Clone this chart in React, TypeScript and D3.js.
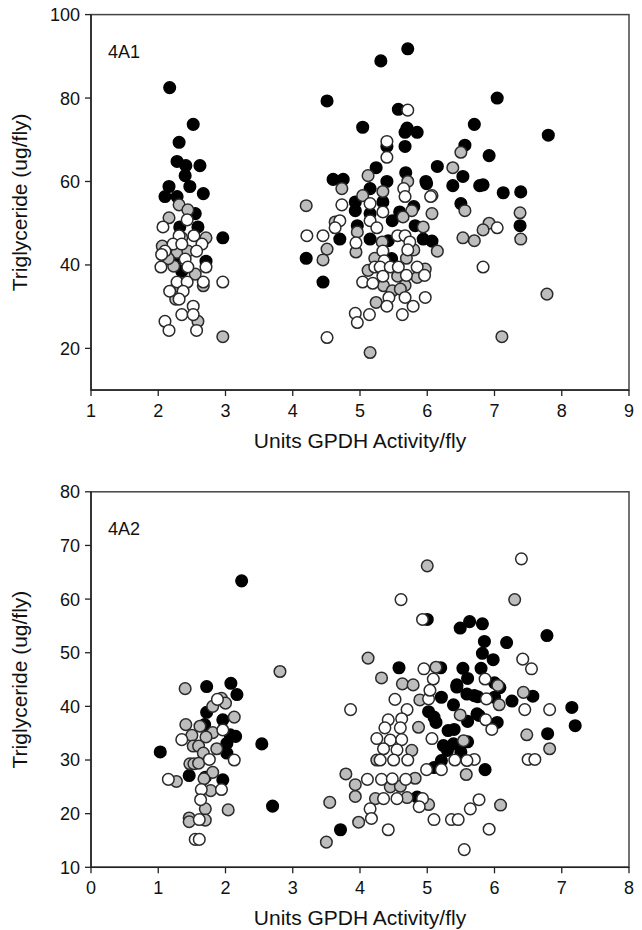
import React from 'react';
import * as d3 from 'd3';

type Pt = [number, number];

// ---------- Panel 4A1 ----------
const p1XTicks = [1, 2, 3, 4, 5, 6, 7, 8, 9];
const p1YTicks = [20, 40, 60, 80, 100];

const p1Black: Pt[] = [
  [2.17, 82.5], [2.52, 73.7], [2.31, 69.4], [2.28, 64.8], [2.41, 63.8], [2.62, 63.8], [2.40, 61.4],
  [2.16, 58.8], [2.47, 58.8], [2.67, 57.1], [2.10, 56.4], [2.28, 56.4], [2.55, 52.3], [2.32, 49.1],
  [2.59, 49.1], [2.96, 46.5], [2.71, 40.9], [2.35, 38.5], [2.30, 41.5],
  [5.71, 91.8], [5.31, 88.9], [4.51, 79.3], [5.57, 77.3], [5.04, 73.0], [5.70, 72.8], [5.85, 71.8],
  [5.67, 71.8], [6.70, 73.7], [7.04, 80.0], [5.40, 68.4], [5.67, 68.4], [6.56, 68.7], [5.24, 63.3],
  [5.68, 62.1], [6.15, 63.6], [6.53, 61.2], [6.38, 59.0], [4.60, 60.5], [4.75, 60.5], [5.40, 60.0],
  [5.98, 60.0], [5.15, 58.3], [6.78, 59.0], [7.80, 71.1], [6.92, 66.2], [6.83, 59.2], [7.13, 57.3],
  [7.39, 57.5], [6.50, 54.7], [7.38, 49.4], [4.93, 55.1], [5.34, 55.1], [5.99, 59.5], [4.93, 53.0],
  [5.59, 52.7], [5.80, 54.0], [4.96, 49.4], [5.15, 52.3], [5.48, 50.6], [5.82, 49.4], [4.70, 46.2],
  [5.15, 46.2], [5.42, 45.8], [5.94, 46.2], [6.07, 45.7], [4.20, 41.6], [5.47, 41.5], [4.45, 35.9],
];

const p1Gray: Pt[] = [
  [2.31, 54.4], [2.44, 53.2], [2.16, 51.3], [2.71, 46.5], [2.06, 44.5], [2.28, 43.0], [2.44, 43.3],
  [2.23, 39.7], [2.55, 37.8], [2.28, 34.9], [2.67, 35.0], [2.26, 31.8], [2.59, 26.5], [2.96, 22.8],
  [2.35, 46.5], [2.15, 41.5],
  [5.12, 61.4], [6.50, 67.0], [6.38, 63.3], [4.73, 58.3], [5.71, 60.0], [5.34, 57.6], [5.04, 56.6],
  [4.20, 54.2], [6.56, 53.0], [5.77, 53.0], [6.07, 52.3], [4.63, 50.3], [5.64, 51.5], [5.94, 49.1],
  [4.96, 47.9], [5.33, 45.5], [6.15, 43.3], [4.51, 43.8], [4.94, 43.1], [5.80, 43.6], [4.45, 41.2],
  [5.22, 41.6], [5.69, 41.6], [5.12, 38.7], [5.97, 39.0], [5.85, 37.0], [5.56, 37.3], [5.35, 35.0],
  [5.67, 35.1], [5.48, 33.8], [5.60, 34.2], [5.24, 31.0], [5.15, 19.0], [7.38, 52.5], [6.92, 50.0],
  [6.83, 48.4], [6.53, 46.5], [6.70, 45.8], [7.39, 46.2], [7.78, 33.0], [7.11, 22.8],
];

const p1White: Pt[] = [
  [2.43, 50.8], [2.07, 49.1], [2.31, 47.0], [2.53, 47.0], [2.22, 45.0], [2.35, 45.0], [2.65, 45.0],
  [2.10, 43.3], [2.57, 43.3], [2.40, 41.4], [2.04, 39.5], [2.44, 39.5], [2.71, 39.5], [2.28, 35.9],
  [2.43, 35.9], [2.67, 35.9], [2.96, 35.9], [2.17, 33.7], [2.37, 33.7], [2.31, 31.8], [2.52, 30.1],
  [2.35, 28.1], [2.52, 28.1], [2.10, 26.5], [2.16, 24.3], [2.57, 24.3], [2.05, 42.5],
  [5.71, 77.1], [5.40, 69.6], [5.40, 65.8], [5.65, 58.3], [6.07, 56.6], [4.73, 54.4], [5.15, 54.7],
  [5.67, 56.4], [6.05, 56.4], [5.34, 52.7], [4.70, 50.6], [4.63, 48.9], [5.15, 50.6], [5.25, 48.9],
  [4.21, 47.0], [4.45, 47.0], [5.56, 47.0], [5.67, 47.0], [4.94, 45.3], [5.74, 45.5], [5.34, 43.3],
  [5.71, 43.6], [5.36, 41.0], [5.22, 39.5], [5.30, 39.5], [5.45, 39.5], [5.57, 39.5], [5.85, 39.5],
  [5.69, 37.5], [5.96, 37.5], [5.34, 37.3], [5.04, 35.9], [5.19, 35.6], [5.43, 32.2], [5.67, 32.2],
  [5.97, 32.2], [5.40, 30.1], [5.79, 30.1], [4.93, 28.4], [5.14, 28.1], [5.63, 28.1], [4.96, 26.2],
  [4.51, 22.6], [7.04, 48.9], [6.83, 39.5],
];

// ---------- Panel 4A2 ----------
const p2XTicks = [0, 1, 2, 3, 4, 5, 6, 7, 8];
const p2YTicks = [10, 20, 30, 40, 50, 60, 70, 80];

const p2Black: Pt[] = [
  [2.24, 63.4], [1.72, 43.7], [2.08, 44.3], [2.17, 42.2], [1.72, 38.9], [1.96, 37.5], [1.69, 36.6],
  [2.07, 34.7], [2.15, 34.4], [2.02, 33.1], [2.54, 33.0], [1.03, 31.5], [2.02, 31.3], [1.46, 27.1],
  [1.96, 26.3], [1.70, 26.8], [2.70, 21.4],
  [5.00, 56.2], [5.49, 54.6], [5.63, 55.8], [5.82, 55.4], [5.85, 52.1], [6.18, 51.9], [5.82, 49.9],
  [5.98, 48.7], [4.58, 47.2], [5.20, 47.2], [5.53, 47.1], [5.80, 47.1], [5.60, 45.2], [5.44, 44.0],
  [6.00, 44.4], [6.78, 53.2], [6.57, 41.9], [5.75, 41.8], [6.00, 41.7], [6.26, 41.0], [7.15, 39.8],
  [7.20, 36.4], [5.77, 38.3], [6.04, 37.0], [6.79, 34.9], [5.86, 28.2], [5.21, 41.7], [5.44, 43.6],
  [5.59, 42.3], [5.70, 42.0], [6.08, 43.5], [5.39, 40.3], [5.74, 38.6], [5.02, 39.0], [5.10, 38.0],
  [5.60, 37.2], [5.13, 37.0], [5.31, 35.5], [5.40, 35.7], [5.24, 32.7], [5.39, 33.0], [5.60, 33.4],
  [5.30, 31.8], [5.50, 31.5], [5.21, 29.9], [5.10, 28.6], [4.85, 23.1], [3.71, 17.0],
];

const p2Gray: Pt[] = [
  [2.81, 46.5], [1.40, 43.3], [1.94, 41.5], [2.00, 40.6], [1.81, 40.0], [2.13, 38.0], [1.41, 36.6],
  [1.62, 36.3], [1.81, 35.1], [1.50, 34.6], [1.71, 34.3], [1.52, 32.6], [1.60, 32.6], [1.87, 32.1],
  [1.67, 31.3], [1.47, 29.3], [1.53, 29.3], [1.60, 29.4], [1.81, 27.7], [1.27, 26.0], [1.68, 26.5],
  [1.78, 24.3], [1.70, 20.9], [2.04, 20.7], [1.46, 19.2], [1.70, 18.8], [1.46, 18.5],
  [5.00, 66.2], [6.30, 59.9], [4.12, 49.0], [5.13, 47.3], [4.32, 45.3], [4.63, 44.2], [4.79, 44.0],
  [6.05, 43.9], [6.43, 42.6], [6.07, 40.3], [6.48, 34.7], [6.82, 32.1], [6.09, 21.6], [4.89, 41.2],
  [5.49, 38.4], [4.87, 36.1], [5.54, 33.6], [4.77, 31.8], [4.25, 30.0], [5.58, 27.3], [3.79, 27.4],
  [4.82, 26.6], [3.93, 25.4], [4.45, 25.0], [4.60, 25.1], [3.93, 23.2], [4.23, 22.8], [4.70, 23.0],
  [5.02, 21.7], [3.55, 22.1], [3.98, 18.4], [3.50, 14.7],
];

const p2White: Pt[] = [
  [1.88, 41.3], [1.96, 35.6], [1.35, 33.8], [1.76, 30.1], [2.13, 30.0], [1.15, 26.4], [1.64, 24.5],
  [1.94, 24.5], [1.63, 22.6], [1.61, 18.9], [1.55, 15.2], [1.61, 15.2],
  [6.40, 67.5], [4.61, 59.9], [4.93, 56.2], [4.95, 47.0], [5.09, 45.1], [5.86, 45.1], [6.42, 48.8],
  [6.55, 47.0], [5.88, 41.4], [6.45, 39.4], [6.82, 39.4], [5.87, 37.5], [5.96, 35.7], [6.50, 30.1],
  [6.60, 30.1], [5.70, 30.1], [5.77, 22.6], [5.92, 17.1], [3.86, 39.4], [4.52, 41.3], [4.70, 39.4],
  [5.02, 41.4], [5.04, 43.0], [4.42, 37.5], [4.62, 37.7], [4.37, 36.0], [4.60, 36.0], [5.07, 34.0],
  [4.25, 34.0], [4.45, 33.7], [4.62, 33.8], [4.35, 32.1], [4.55, 31.9], [5.59, 29.9], [5.41, 30.0],
  [4.30, 30.0], [4.50, 30.0], [4.71, 30.0], [4.99, 28.2], [5.21, 28.2], [4.11, 26.4], [4.32, 26.4],
  [4.48, 26.5], [4.68, 26.4], [4.35, 22.8], [4.55, 22.8], [4.93, 22.8], [4.88, 21.3], [4.15, 20.9],
  [5.64, 20.9], [4.17, 19.1], [5.10, 18.9], [5.36, 18.9], [5.46, 18.9], [4.42, 17.0], [5.55, 13.3],
];

const xTitle = 'Units GPDH Activity/fly';
const yTitle = 'Triglyceride (ug/fly)';

const FONT = '"Liberation Sans", Arial, Helvetica, sans-serif';
const LEFT = 91;
const RIGHT = 629;
const PH = 375.5;
const R = 5.8;
const STROKE = '#2a2a2a';

interface PanelProps {
  top: number;
  xDomain: [number, number];
  yDomain: [number, number];
  xTicks: number[];
  yTicks: number[];
  black: Pt[];
  gray: Pt[];
  white: Pt[];
  label: string;
}

function Panel({ top, xDomain, yDomain, xTicks, yTicks, black, gray, white, label }: PanelProps) {
  const x = d3.scaleLinear().domain(xDomain).range([LEFT, RIGHT]);
  const y = d3.scaleLinear().domain(yDomain).range([top + PH, top]);
  const bottom = top + PH;
  const groups: { pts: Pt[]; fill: string; stroke: string }[] = [
    { pts: black, fill: '#000', stroke: '#000' },
    { pts: gray, fill: '#bdbdbd', stroke: STROKE },
    { pts: white, fill: '#fff', stroke: STROKE },
  ];
  return (
    <g>
      {groups.map((g, gi) => (
        <g key={gi}>
          {g.pts.map((p, i) => (
            <circle key={i} cx={x(p[0])} cy={y(p[1])} r={R} fill={g.fill} stroke={g.stroke} strokeWidth={1.5} />
          ))}
        </g>
      ))}
      <rect x={LEFT} y={top} width={RIGHT - LEFT} height={PH} fill="none" stroke="#444" strokeWidth={1.5} />
      <line x1={LEFT} x2={LEFT} y1={top} y2={bottom} stroke="#222" strokeWidth={1.5} />
      <line x1={LEFT} x2={RIGHT} y1={bottom} y2={bottom} stroke="#222" strokeWidth={1.5} />
      {xTicks.map((t) => (
        <g key={'x' + t}>
          <line x1={x(t)} x2={x(t)} y1={bottom} y2={bottom + 6} stroke="#222" strokeWidth={1.3} />
          <text x={x(t)} y={bottom + 27} textAnchor="middle" fontSize={18} fontFamily={FONT} fill="#111">
            {t}
          </text>
        </g>
      ))}
      {yTicks.map((t) => (
        <g key={'y' + t}>
          <line x1={LEFT - 6} x2={LEFT} y1={y(t)} y2={y(t)} stroke="#222" strokeWidth={1.3} />
          <text x={LEFT - 11} y={y(t)} dy="0.36em" textAnchor="end" fontSize={18} fontFamily={FONT} fill="#111">
            {t}
          </text>
        </g>
      ))}
      <text x={LEFT + 17} y={top + 43} fontSize={18} fontFamily={FONT} fill="#111">
        {label}
      </text>
      <text x={(LEFT + RIGHT) / 2} y={bottom + 58} textAnchor="middle" fontSize={21} fontFamily={FONT} fill="#111">
        {xTitle}
      </text>
      <text
        transform={`translate(27,${top + PH / 2}) rotate(-90)`}
        textAnchor="middle"
        fontSize={21}
        fontFamily={FONT}
        fill="#111"
      >
        {yTitle}
      </text>
    </g>
  );
}

export default function App() {
  return (
    <svg
      width={642}
      height={930}
      style={{ position: 'absolute', left: 0, top: 0, background: '#fff', display: 'block' }}
    >
      <rect width={642} height={930} fill="#fff" />
      <Panel
        top={14.6}
        xDomain={[1, 9]}
        yDomain={[10, 100]}
        xTicks={p1XTicks}
        yTicks={p1YTicks}
        black={p1Black}
        gray={p1Gray}
        white={p1White}
        label="4A1"
      />
      <Panel
        top={491.8}
        xDomain={[0, 8]}
        yDomain={[10, 80]}
        xTicks={p2XTicks}
        yTicks={p2YTicks}
        black={p2Black}
        gray={p2Gray}
        white={p2White}
        label="4A2"
      />
    </svg>
  );
}
